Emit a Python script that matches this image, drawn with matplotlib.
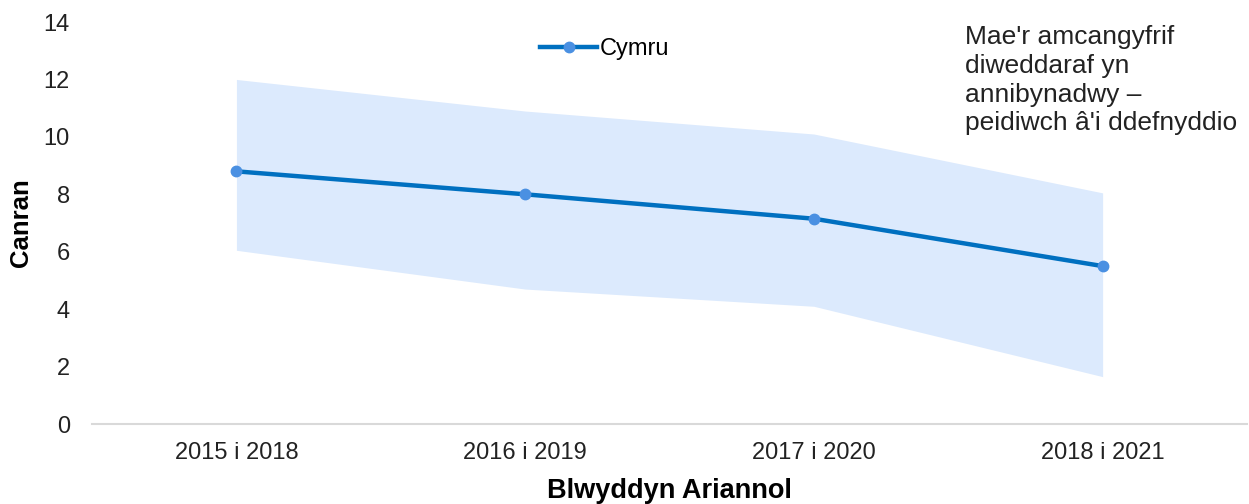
import matplotlib.pyplot as plt

plt.rcParams['font.family'] = ['Liberation Sans', 'DejaVu Sans']

years = ['2015 i 2018', '2016 i 2019', '2017 i 2020', '2018 i 2021']
cymru = [8.8, 8.0, 7.15, 5.5]
upper = [12.0, 10.9, 10.1, 8.05]
lower = [6.05, 4.7, 4.1, 1.65]

fig = plt.figure(figsize=(12.49, 5.04), dpi=100)
ax = fig.add_axes([0.0737, 0.1587, 0.9247, 0.7976])

x = range(len(years))
ax.fill_between(x, lower, upper, color='#DCEAFD', linewidth=0)
ax.plot(x, cymru, color='#0070C0', linewidth=3.2, marker='o', markersize=7.5,
        markerfacecolor='#4A90E2', markeredgecolor='#4A90E2', label='Cymru')

ax.set_xlim(-0.5, 3.5)
ax.set_ylim(0, 14)
ax.set_yticks(range(0, 15, 2))
ax.set_xticks(list(x))
ax.set_xticklabels(years)
ax.tick_params(axis='both', length=0, labelsize=17, colors='#222222')
ax.tick_params(axis='x', pad=13)
ax.tick_params(axis='y', pad=16)

for s in ['top', 'right', 'left']:
    ax.spines[s].set_visible(False)
ax.spines['bottom'].set_color('#D9D9D9')
ax.spines['bottom'].set_linewidth(1.5)

ax.set_xlabel('Blwyddyn Ariannol', fontsize=19.5, fontweight='bold', labelpad=10)
ax.set_ylabel('Canran', fontsize=18.5, fontweight='bold')
ax.yaxis.set_label_coords(-0.051, 0.5)

fig.legend(loc='center', bbox_to_anchor=(0.484, 0.903), frameon=False,
           fontsize=17, handlelength=2.4, handletextpad=0.1)

fig.text(0.773, 0.95, "Mae'r amcangyfrif\ndiweddaraf yn\nannibynadwy \u2013\npeidiwch \u00e2'i ddefnyddio",
         fontsize=19, va='top', ha='left', color='#222222', linespacing=1.25)

fig.savefig('out.png', dpi=100)
